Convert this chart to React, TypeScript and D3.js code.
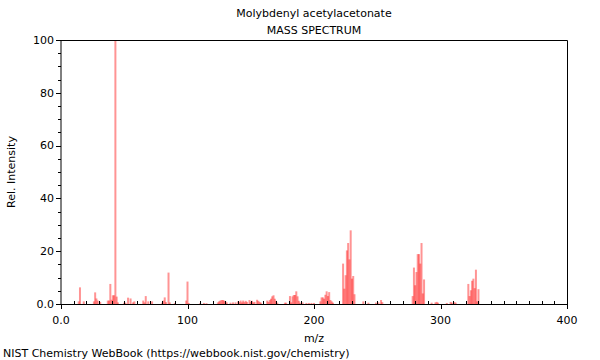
import * as d3 from 'd3'

const WIDTH = 600
const HEIGHT = 360
const LEFT = 61
const RIGHT = 567
const TOP = 40
const BOTTOM = 304

const TITLE = 'Molybdenyl acetylacetonate'
const SUBTITLE = 'MASS SPECTRUM'
const X_LABEL = 'm/z'
const Y_LABEL = 'Rel. Intensity'
const FOOTER = 'NIST Chemistry WebBook (https://webbook.nist.gov/chemistry)'

const X_TICKS = [0, 100, 200, 300, 400]
const X_TICK_LABELS = ['0.0', '100', '200', '300', '400']
const Y_TICKS = [0, 20, 40, 60, 80, 100]
const Y_TICK_LABELS = ['0.0', '20', '40', '60', '80', '100']

// peaks: m/z and relative intensity
const MZ = [
  14, 15, 18, 26, 27, 28, 29, 31, 37, 38, 39, 40, 41, 42, 43, 44, 45, 50, 51, 53, 55, 57, 58, 65, 66,
  67, 69, 72, 80, 81, 82, 83, 85, 86, 90, 99, 100, 101, 110, 113, 115, 124, 125, 126, 127, 128, 129,
  130, 131, 134, 136, 138, 140, 141, 142, 143, 144, 145, 146, 147, 149, 150, 151, 152, 153, 155, 156,
  157, 158, 163, 164, 165, 166, 167, 168, 169, 170, 171, 177, 178, 181, 182, 183, 184, 185, 186, 187,
  188, 189, 191, 194, 196, 198, 200, 205, 206, 207, 208, 209, 210, 211, 212, 213, 214, 215, 223, 224,
  225, 226, 227, 228, 229, 230, 231, 232, 239, 243, 249, 251, 253, 254, 278, 279, 280, 281, 282, 283,
  284, 285, 286, 287, 293, 296, 297, 298, 305, 308, 309, 311, 312, 322, 323, 324, 325, 326, 327, 328,
  329, 330,
]
const INTENSITY = [
  1.0, 6.3, 1.0, 1.0, 4.4, 2.1, 1.3, 0.8, 1.3, 1.3, 7.6, 1.6, 3.3, 3.3, 100, 2.8, 0.6, 0.5, 0.5, 2.4,
  2.1, 0.6, 1.0, 1.3, 0.6, 3.0, 1.0, 1.0, 0.5, 1.3, 2.5, 0.7, 11.9, 0.6, 0.4, 1.3, 8.5, 0.4, 0.3, 0.4,
  0.3, 0.6, 1.0, 1.3, 1.5, 1.5, 1.3, 1.0, 0.6, 0.5, 0.6, 0.6, 1.0, 0.7, 1.3, 0.6, 1.3, 0.7, 1.2, 0.8,
  1.5, 0.8, 1.2, 0.6, 0.8, 1.6, 1.2, 0.8, 0.5, 1.3, 0.8, 1.5, 2.0, 2.9, 3.3, 2.0, 1.2, 0.5, 0.5, 0.5,
  3.0, 0.6, 2.9, 3.4, 3.4, 4.8, 2.9, 1.2, 0.5, 0.6, 0.4, 0.4, 0.4, 0.4, 1.0, 2.5, 2.5, 2.0, 3.5, 4.8,
  3.0, 4.5, 1.5, 1.0, 0.5, 15.3, 5.8, 10.9, 20.3, 23.1, 16.9, 27.9, 9.6, 10.6, 3.7, 1.0, 0.5, 0.5, 0.6,
  1.5, 0.7, 3.0, 13.8, 7.1, 12.1, 18.9, 18.9, 15.3, 23.1, 4.0, 9.3, 0.5, 0.6, 0.8, 0.5, 0.4, 0.8, 0.5,
  0.7, 0.5, 7.6, 3.0, 5.2, 8.8, 9.6, 6.0, 13.0, 1.0, 5.6,
]

const font = 'DejaVu Sans, sans-serif'

export default function App() {
  const x = d3.scaleLinear([0, 400], [LEFT, RIGHT])
  const y = d3.scaleLinear([0, 100], [BOTTOM, TOP])
  const xMinor = d3.range(0, 401, 10).filter((v) => !X_TICKS.includes(v))
  const yMinor = d3.range(0, 101, 5).filter((v) => !Y_TICKS.includes(v))
  const peaks = MZ.map((m, i) => ({ m, v: INTENSITY[i] }))

  return (
    <svg
      width={WIDTH}
      height={HEIGHT}
      style={{ position: 'absolute', left: 0, top: 0, background: '#fff' }}
      fontFamily={font}
      fontSize={11}
    >
      <text x={(LEFT + RIGHT) / 2} y={17} textAnchor="middle">
        {TITLE}
      </text>
      <text x={(LEFT + RIGHT) / 2} y={34} textAnchor="middle">
        {SUBTITLE}
      </text>

      <g fill="rgb(255,0,0)" fillOpacity={0.42}>
        {peaks.map((p) => (
          <rect key={p.m} x={x(p.m) - 1} width={2} y={y(p.v)} height={y(0) - y(p.v)} />
        ))}
      </g>

      {/* frame */}
      <path
        d={`M${LEFT},${TOP + 0.5}H${RIGHT + 0.5}V${BOTTOM + 0.5}H${LEFT}`}
        fill="none"
        stroke="#000"
      />
      <line x1={LEFT} x2={LEFT} y1={TOP} y2={BOTTOM + 1} stroke="#000" />

      {/* x axis */}
      {X_TICKS.map((t, i) => (
        <g key={t}>
          <line x1={Math.round(x(t)) + 0.5} x2={Math.round(x(t)) + 0.5} y1={BOTTOM} y2={BOTTOM + 5} stroke="#000" />
          <text x={x(t)} y={324} textAnchor="middle">
            {X_TICK_LABELS[i]}
          </text>
        </g>
      ))}
      {xMinor.map((t) => (
        <line key={t} x1={Math.round(x(t)) + 0.5} x2={Math.round(x(t)) + 0.5} y1={BOTTOM - 3} y2={BOTTOM} stroke="#000" />
      ))}

      {/* y axis */}
      {Y_TICKS.map((t, i) => (
        <g key={t}>
          <line x1={LEFT - 5} x2={LEFT} y1={Math.round(y(t)) + 0.5} y2={Math.round(y(t)) + 0.5} stroke="#000" />
          <text x={LEFT - 7} y={y(t)} dy="0.35em" textAnchor="end">
            {Y_TICK_LABELS[i]}
          </text>
        </g>
      ))}
      {yMinor.map((t) => (
        <line key={t} x1={LEFT - 3} x2={LEFT} y1={Math.round(y(t)) + 0.5} y2={Math.round(y(t)) + 0.5} stroke="#000" />
      ))}

      <text x={(LEFT + RIGHT) / 2} y={342} textAnchor="middle">
        {X_LABEL}
      </text>
      <text transform={`translate(15,${(TOP + BOTTOM) / 2}) rotate(-90)`} textAnchor="middle">
        {Y_LABEL}
      </text>
      <text x={3} y={357}>
        {FOOTER}
      </text>
    </svg>
  )
}
